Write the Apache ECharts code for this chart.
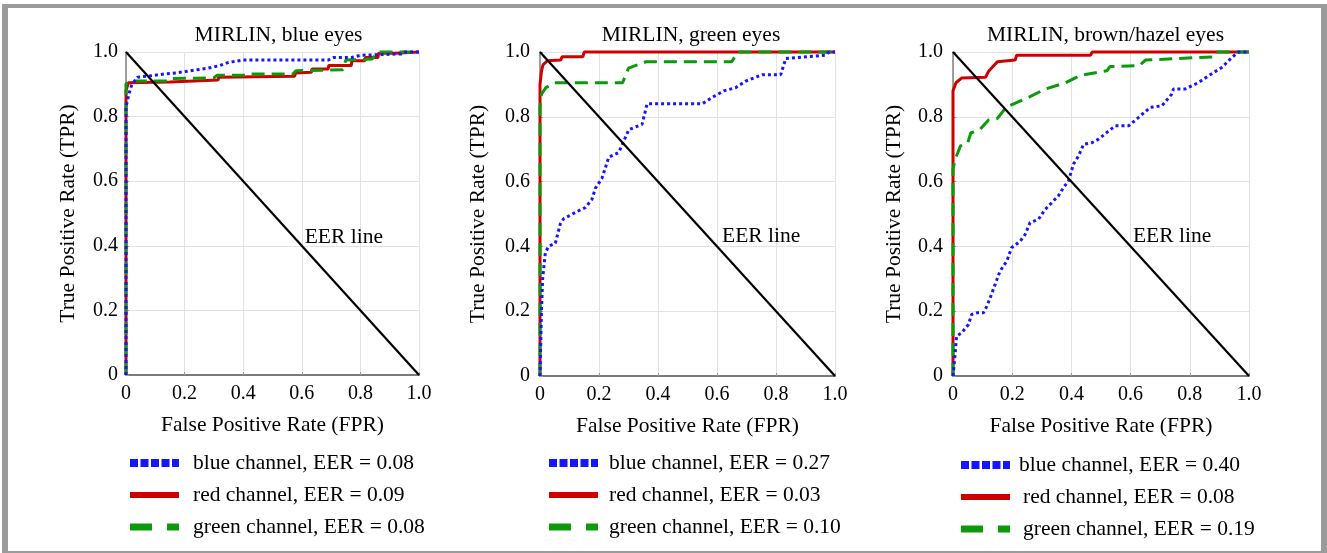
<!DOCTYPE html>
<html>
<head>
<meta charset="utf-8">
<script src="https://cdn.jsdelivr.net/npm/echarts@6/dist/echarts.min.js"></script>
<style>
html,body{margin:0;padding:0;background:#fff;}
#chart{width:1327px;height:553px;}
</style>
</head>
<body>
<div id="chart"></div>
<script>
// ---------------- DATA ----------------
const tickValues = [0, 0.2, 0.4, 0.6, 0.8, 1.0];
const tickLabels = ['0', '0.2', '0.4', '0.6', '0.8', '1.0'];

const panelTitles = ['MIRLIN, blue eyes', 'MIRLIN, green eyes', 'MIRLIN, brown/hazel eyes'];
const xAxisTitle = 'False Positive Rate (FPR)';
const yAxisTitle = 'True Positive Rate (TPR)';
const eerLineLabel = 'EER line';

const channelNames = ['blue channel', 'red channel', 'green channel'];
const eerBlueChannel = ['0.08', '0.27', '0.40'];
const eerRedChannel = ['0.09', '0.03', '0.08'];
const eerGreenChannel = ['0.08', '0.10', '0.19'];

const eerLine = [[0, 1], [1, 0]];
const eerLabelAt = [[0.61, 0.426], [0.617, 0.431], [0.608, 0.43]];

// Panel 1: blue eyes  [FPR, TPR]
const blueEyesRed = [[0,0],[0,0.88],[0.008,0.905],[0.15,0.907],[0.152,0.912],[0.314,0.913],[0.316,0.922],[0.576,0.925],[0.578,0.935],[0.633,0.937],[0.635,0.947],[0.69,0.947],[0.692,0.958],[0.769,0.958],[0.771,0.973],[0.815,0.973],[0.817,0.983],[0.86,0.983],[0.862,0.996],[0.917,0.996],[0.92,1],[1,1]];
const blueEyesGreen = [[0,0],[0,0.9],[0.01,0.91],[0.14,0.91],[0.15,0.918],[0.30,0.92],[0.31,0.928],[0.41,0.928],[0.42,0.932],[0.57,0.932],[0.58,0.942],[0.74,0.945],[0.75,0.975],[0.84,0.978],[0.85,0.99],[0.86,1],[1,1]];
const blueEyesBlue = [[0,0],[0,0.83],[0.01,0.87],[0.02,0.9],[0.04,0.922],[0.09,0.927],[0.13,0.932],[0.17,0.935],[0.22,0.942],[0.28,0.95],[0.32,0.958],[0.35,0.968],[0.40,0.975],[0.69,0.975],[0.71,0.983],[0.77,0.983],[0.80,0.99],[0.94,0.994],[0.95,1],[1,1]];

// Panel 2: green eyes
const greenEyesRed = [[0,0],[0,0.9],[0.005,0.94],[0.01,0.96],[0.025,0.973],[0.07,0.975],[0.075,0.985],[0.145,0.985],[0.15,1],[1,1]];
const greenEyesGreen = [[0,0],[0,0.83],[0.005,0.87],[0.02,0.89],[0.05,0.905],[0.28,0.905],[0.30,0.95],[0.33,0.96],[0.36,0.97],[0.65,0.97],[0.67,1],[1,1]];
const greenEyesBlue = [[0,0],[0.005,0.2],[0.009,0.30],[0.018,0.38],[0.029,0.40],[0.052,0.41],[0.069,0.47],[0.08,0.485],[0.12,0.505],[0.154,0.52],[0.176,0.545],[0.188,0.58],[0.21,0.61],[0.233,0.675],[0.267,0.69],[0.284,0.725],[0.301,0.76],[0.346,0.777],[0.363,0.84],[0.55,0.84],[0.584,0.86],[0.623,0.88],[0.663,0.89],[0.697,0.91],[0.753,0.93],[0.816,0.93],[0.833,0.98],[0.968,0.99],[0.98,1],[1,1]];

// Panel 3: brown/hazel eyes
const brownEyesRed = [[0,0],[0,0.88],[0.01,0.905],[0.03,0.92],[0.11,0.922],[0.12,0.94],[0.135,0.955],[0.15,0.97],[0.21,0.975],[0.215,0.99],[0.465,0.99],[0.47,1],[1,1]];
const brownEyesGreen = [[0,0],[0,0.64],[0.01,0.675],[0.025,0.71],[0.05,0.72],[0.06,0.75],[0.09,0.76],[0.12,0.79],[0.15,0.795],[0.18,0.83],[0.23,0.85],[0.26,0.862],[0.31,0.885],[0.38,0.905],[0.43,0.928],[0.52,0.942],[0.53,0.955],[0.63,0.958],[0.65,0.975],[0.88,0.985],[0.89,1],[1,1]];
const brownEyesBlue = [[0,0],[0.007,0.066],[0.012,0.123],[0.029,0.133],[0.052,0.159],[0.063,0.19],[0.08,0.195],[0.103,0.195],[0.114,0.215],[0.125,0.24],[0.142,0.282],[0.159,0.324],[0.182,0.355],[0.198,0.396],[0.227,0.416],[0.244,0.437],[0.26,0.473],[0.289,0.484],[0.311,0.514],[0.339,0.54],[0.356,0.556],[0.373,0.581],[0.39,0.602],[0.407,0.654],[0.424,0.679],[0.441,0.715],[0.469,0.72],[0.492,0.731],[0.52,0.752],[0.548,0.772],[0.593,0.772],[0.627,0.798],[0.666,0.829],[0.706,0.834],[0.739,0.87],[0.745,0.886],[0.785,0.886],[0.83,0.906],[0.864,0.927],[0.909,0.953],[0.943,0.984],[0.965,1.0],[1,1]];

// ---------------- LAYOUT / STYLE ----------------
const FONT = '"Liberation Serif", "Times New Roman", serif';
const COL = { blue: '#1515ff', red: '#d10000', green: '#0a9a0a', frame: '#9b9b9b' };
const grids = [
  { left: 126, top: 52, width: 293, height: 323 },
  { left: 540, top: 52, width: 295, height: 324 },
  { left: 953, top: 52, width: 296, height: 324 }
];
const titleCenters = [278.5, 691, 1105.5];
const yNameGaps = [46.5, 50.5, 48];
const yLabelMargins = [8, 10, 10];
const legendPos = [
  { left: 126, top: 452, pads: [9, 9, 9] },
  { left: 545, top: 452, pads: [6, 6, 6] },
  { left: 957, top: 454, pads: [4, 8, 8] }
];

const panelData = [
  { red: blueEyesRed, green: blueEyesGreen, blue: blueEyesBlue },
  { red: greenEyesRed, green: greenEyesGreen, blue: greenEyesBlue },
  { red: brownEyesRed, green: brownEyesGreen, blue: brownEyesBlue }
];

function tickLabel(v) {
  const i = tickValues.findIndex(t => Math.abs(t - v) < 1e-6);
  return i >= 0 ? tickLabels[i] : '';
}

const option = {
  animation: false,
  backgroundColor: '#ffffff',
  title: [], grid: [], xAxis: [], yAxis: [], legend: [], series: [],
  graphic: [
    { type: 'rect', shape: { x: 2, y: 4, width: 1325, height: 4 }, style: { fill: COL.frame }, silent: true },
    { type: 'rect', shape: { x: 2, y: 4, width: 6, height: 549 }, style: { fill: COL.frame }, silent: true },
    { type: 'rect', shape: { x: 1321, y: 4, width: 6, height: 549 }, style: { fill: COL.frame }, silent: true },
    { type: 'rect', shape: { x: 2, y: 551, width: 1325, height: 2 }, style: { fill: COL.frame }, silent: true }
  ]
};

panelData.forEach((p, i) => {
  const names = [
    channelNames[0] + ', EER = ' + eerBlueChannel[i],
    channelNames[1] + ', EER = ' + eerRedChannel[i],
    channelNames[2] + ', EER = ' + eerGreenChannel[i]
  ];
  option.title.push({
    text: panelTitles[i], left: titleCenters[i], top: 24, padding: 0,
    textAlign: 'center',
    textStyle: { fontFamily: FONT, fontSize: 21.5, fontWeight: 'normal', color: '#000' }
  });
  option.grid.push(Object.assign({ containLabel: false }, grids[i]));
  const common = {
    type: 'value', gridIndex: i, min: 0, max: 1, interval: 0.2,
    nameLocation: 'middle',
    nameTextStyle: { fontFamily: FONT, fontSize: 21.5, color: '#000' },
    axisTick: { show: true, inside: true, length: 3, lineStyle: { color: '#9a9a9a', width: 1 } },
    splitLine: { show: true, lineStyle: { color: '#e2e2e2', width: 1 } }
  };
  option.xAxis.push(Object.assign({}, common, {
    name: xAxisTitle, nameGap: 39,
    axisLine: { show: true, onZero: false, lineStyle: { color: '#7a7a7a', width: 2 } },
    axisLabel: { formatter: tickLabel, margin: 8.5, fontFamily: FONT, fontSize: 20, color: '#000' }
  }));
  option.yAxis.push(Object.assign({}, common, {
    name: yAxisTitle, nameGap: yNameGaps[i],
    axisLine: { show: true, onZero: false, lineStyle: { color: '#808080', width: 1.5 } },
    axisLabel: { formatter: tickLabel, margin: yLabelMargins[i], fontFamily: FONT, fontSize: 20, color: '#000' }
  }));
  const lp = legendPos[i];
  option.legend.push({
    orient: 'vertical', left: lp.left, top: lp.top, padding: 0,
    itemWidth: 49, itemHeight: 14, itemGap: 10, selectedMode: false,
    itemStyle: { opacity: 0 },
    textStyle: { fontFamily: FONT, fontSize: 21.5, color: '#000', lineHeight: 22 },
    data: [
      { name: names[0], lineStyle: { width: 8, type: [8, 2.5], cap: 'butt', color: COL.blue }, textStyle: { padding: [0, 0, 0, lp.pads[0]] } },
      { name: names[1], lineStyle: { width: 6, type: 'solid', cap: 'butt', color: COL.red }, textStyle: { padding: [0, 0, 0, lp.pads[1]] } },
      { name: names[2], lineStyle: { width: 7, type: [22, 15], cap: 'butt', color: COL.green }, textStyle: { padding: [0, 0, 0, lp.pads[2]] } }
    ]
  });
  const base = { type: 'line', xAxisIndex: i, yAxisIndex: i, symbol: 'none', clip: false, silent: true };
  option.series.push(Object.assign({}, base, {
    name: names[1], data: p.red, z: 3,
    itemStyle: { color: COL.red },
    lineStyle: { color: COL.red, width: 3 }
  }));
  option.series.push(Object.assign({}, base, {
    name: names[2], data: p.green, z: 4,
    itemStyle: { color: COL.green },
    lineStyle: { color: COL.green, width: 3, type: [13, 7], cap: 'butt' }
  }));
  option.series.push(Object.assign({}, base, {
    name: names[0], data: p.blue, z: 5,
    itemStyle: { color: COL.blue },
    lineStyle: { color: COL.blue, width: 3, type: [3, 3], cap: 'butt' }
  }));
  option.series.push(Object.assign({}, base, {
    name: eerLineLabel, data: eerLine, z: 6,
    itemStyle: { color: '#000' },
    lineStyle: { color: '#000', width: 2.2 },
    markPoint: {
      symbol: 'circle', symbolSize: 0, silent: true,
      label: { show: true, position: 'right', distance: 0, formatter: eerLineLabel, fontFamily: FONT, fontSize: 21.5, color: '#000' },
      data: [{ coord: eerLabelAt[i] }]
    }
  }));
});

const chart = echarts.init(document.getElementById('chart'), null, { renderer: 'canvas' });
chart.setOption(option);
</script>
</body>
</html>
